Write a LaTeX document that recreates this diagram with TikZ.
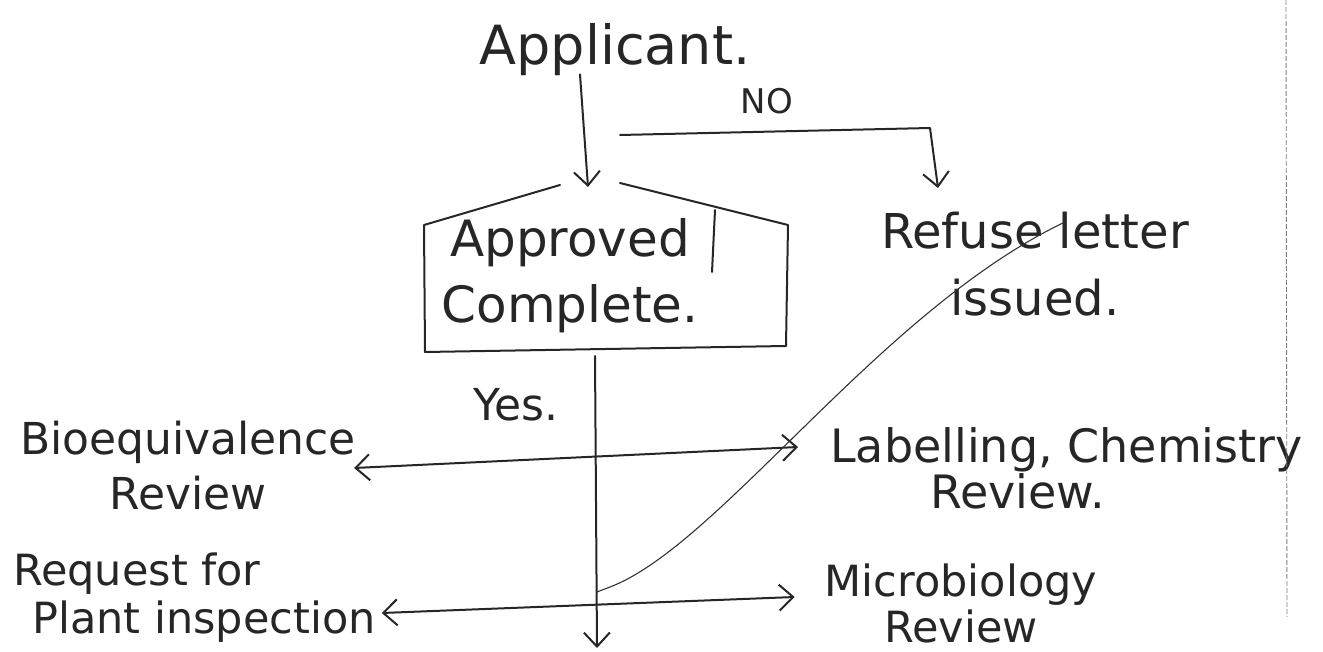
\documentclass[tikz,border=0pt]{standalone}
\usepackage{fontspec}
\setmainfont{DejaVu Sans}
\usetikzlibrary{arrows.meta,calc}
\begin{document}
\begin{tikzpicture}[x=1pt,y=-1pt,
  ink/.style={draw=black!85, line width=2pt, line cap=round, line join=round},
  fine/.style={draw=black!80, line width=1.1pt, line cap=round, line join=round},
  barb/.style={-{Straight Barb[length=14pt,width=26pt]}},
  twobarb/.style={{Straight Barb[length=14pt,width=26pt]}-{Straight Barb[length=14pt,width=26pt]}},
  lbl/.style={inner sep=0pt, text=black!85},
]
\useasboundingbox (0,0) rectangle (1323,652);

% labels
\node[lbl, font=\fontsize{54}{60}\selectfont] (app) at (615,50) {Applicant.};
\node[lbl, font=\fontsize{34}{40}\selectfont] (no) at (767,101) {NO};
\node[lbl, align=center, font=\fontsize{50}{66}\selectfont] (dec) at (570,276) {Approved\\Complete.};
\node[lbl, align=center, font=\fontsize{48}{67}\selectfont] (ref) at (1035,264) {Refuse letter\\issued.};
\node[lbl, font=\fontsize{44}{50}\selectfont] (yes) at (516,405) {Yes.};
\node[lbl, align=center, font=\fontsize{44}{55}\selectfont] (bio) at (188,466) {Bioequivalence\\Review};
\node[lbl, align=left, anchor=west, font=\fontsize{46}{46}\selectfont] (lab) at (830,468) {Labelling, Chemistry\\\hspace*{100pt}Review.};
\node[lbl, align=left, anchor=west, font=\fontsize{43}{48}\selectfont] (req) at (13,598) {Request for\\\hspace*{19pt}Plant inspection};
\node[lbl, align=center, font=\fontsize{43}{46}\selectfont] (mic) at (961,603) {Microbiology\\Review};

% decision box with pitched roof
\coordinate (apex) at (588,187);
\coordinate (boxbot) at (595,356);
\coordinate (down) at (597,648);
\draw[ink] (560,185) -- (424,225) -- (425,352) -- (786,346) -- (788,225) -- (620,183);
\draw[ink] (715,210) -- (712,272);

% applicant into the decision
\draw[ink, barb] ($(app.south)+(-35,-2)$) -- (apex);

% NO branch
\coordinate (nofrom) at (620,135);
\coordinate (nobend) at (930,128);
\coordinate (refin) at (938,188);
\draw[ink, barb] (nofrom) -- (nobend) -- (refin);

% YES branch
\draw[ink, barb] (boxbot) -- (down);
\draw[ink, twobarb] ($(bio.east)+(-2,2)$) -- ($(lab.west)+(-32,-21)$);
\draw[ink, twobarb] ($(req.east)+(6,15)$) -- ($(mic.west)+(-30,-6)$);

% return curve towards the refusal
\coordinate (loopfrom) at (597,592);
\coordinate (loopto) at (1065,222);
\draw[fine] (loopfrom) -- (610,587) .. controls (720,545) and (880,310) .. (loopto);

% page margin rule
\draw[gray, line width=0.9pt, dash pattern=on 5pt off 2pt] (1286,0) -- (1287,617);
\end{tikzpicture}
\end{document}
